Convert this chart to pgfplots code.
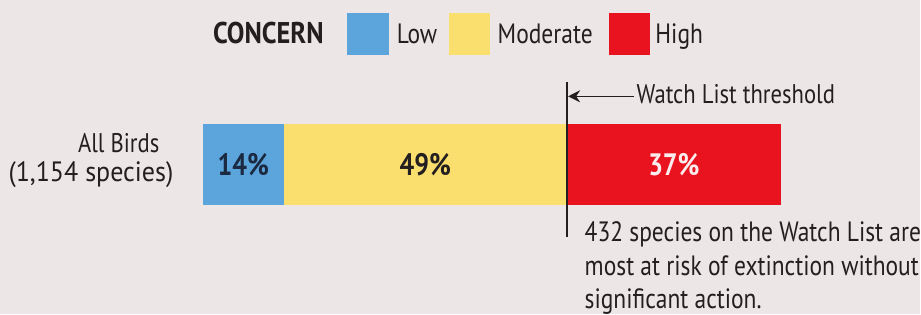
\documentclass[border=0pt]{standalone}
\usepackage{fontspec}
\setmainfont{PT Sans}[FakeStretch=0.84]
\newfontfamily\concernfont{PT Sans}[FakeStretch=0.88]
\newfontfamily\widefont{PT Sans}[FakeStretch=0.93]
\usepackage{pgfplots}
\pgfplotsset{compat=1.18}
\usetikzlibrary{arrows.meta}
\definecolor{bg}{HTML}{ECE7E6}
\definecolor{lowc}{HTML}{5CA4DC}
\definecolor{modc}{HTML}{FBDF6E}
\definecolor{highc}{HTML}{E8131E}
\definecolor{txt}{HTML}{231F20}
\definecolor{navy}{HTML}{1B2A41}
\begin{document}
\begin{tikzpicture}[x=0.5pt,y=0.5pt]
\fill[bg] (0,0) rectangle (921,314);
\coordinate (A) at (203,109);
% legend
\node[anchor=base west,inner sep=0pt,text=txt,font=\concernfont\fontsize{15}{17}\selectfont\bfseries] at (213,270) {CONCERN};
\fill[lowc] (347,259) rectangle (390,301);
\node[anchor=base west,inner sep=0pt,text=txt,font=\fontsize{14}{16}\selectfont] at (397,270) {Low};
\fill[modc] (450,259) rectangle (491,301);
\node[anchor=base west,inner sep=0pt,text=txt,font=\fontsize{14}{16}\selectfont] at (498,270) {Moderate};
\fill[highc] (610,259) rectangle (651,301);
\node[anchor=base west,inner sep=0pt,text=txt,font=\fontsize{14}{16}\selectfont] at (656,270) {High};
% category label
\node[anchor=base east,inner sep=0pt,text=txt,font=\fontsize{13.5}{16}\selectfont] at (160,161) {All Birds};
\node[anchor=base east,inner sep=0pt,text=txt,font=\widefont\fontsize{14}{16}\selectfont] at (174,132) {(1,154 species)};
\begin{axis}[
  at={(A)}, anchor=south west,
  scale only axis, width=289.5pt, height=40.5pt,
  xbar stacked, bar width=1,
  ymin=-0.5, ymax=0.5, xmin=0, xmax=100,
  hide axis, clip=false,
]
\addplot[fill=lowc, draw=none] coordinates {(14,0)};
\addplot[fill=modc, draw=none] coordinates {(49,0)};
\addplot[fill=highc, draw=none] coordinates {(37,0)};
\coordinate (p1) at (axis cs:7,-0.136);
\coordinate (p2) at (axis cs:38.5,-0.136);
\coordinate (p3) at (axis cs:81.5,-0.136);
\coordinate (lt) at (axis cs:63,1.02);
\coordinate (lb) at (axis cs:63,-0.895);
\coordinate (as) at (axis cs:74.6,0.84);
\coordinate (ae) at (axis cs:63.2,0.84);
\coordinate (wl) at (axis cs:75.0,0.755);
\coordinate (n1) at (axis cs:66.0,-0.957);
\coordinate (n2) at (axis cs:66.0,-1.37);
\coordinate (n3) at (axis cs:66.0,-1.778);
\end{axis}
\node[anchor=base,inner sep=0pt,text=navy,font=\fontsize{15.5}{18}\selectfont\bfseries] at (p1) {14\%};
\node[anchor=base,inner sep=0pt,text=txt,font=\fontsize{15.5}{18}\selectfont\bfseries] at (p2) {49\%};
\node[anchor=base,inner sep=0pt,text=white!92!highc,font=\fontsize{15.5}{18}\selectfont\bfseries] at (p3) {37\%};
\draw[txt, line width=1.1pt] (lt) -- (lb);
\draw[txt, line width=0.8pt, -{Stealth[length=6pt,width=6pt]}] (as) -- (ae);
\node[anchor=base west,inner sep=0pt,text=txt,font=\fontsize{13.5}{16}\selectfont] at (wl) {Watch List threshold};
\node[anchor=base west,inner sep=0pt,text=txt,font=\fontsize{14}{16}\selectfont] at (n1) {432 species on the Watch List are};
\node[anchor=base west,inner sep=0pt,text=txt,font=\fontsize{14}{16}\selectfont] at (n2) {most at risk of extinction without};
\node[anchor=base west,inner sep=0pt,text=txt,font=\fontsize{14}{16}\selectfont] at (n3) {significant action.};
\end{tikzpicture}
\end{document}
